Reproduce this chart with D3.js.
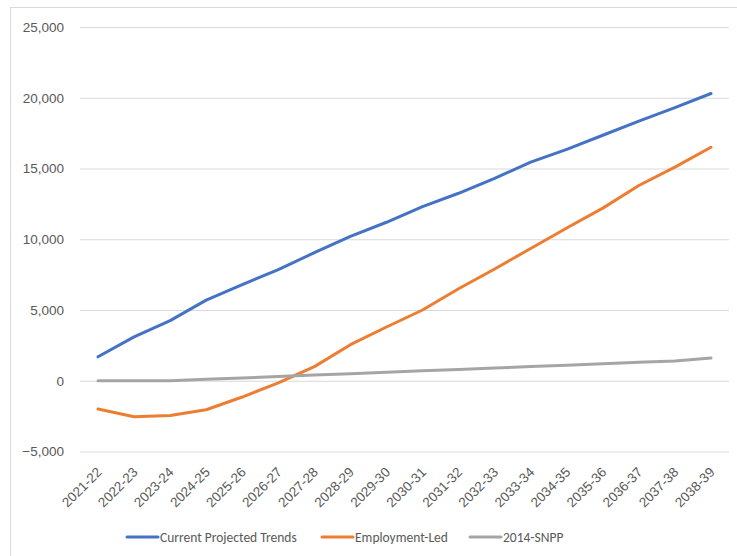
<!DOCTYPE html>
<html>
<head>
<meta charset="utf-8">
<script src="https://cdn.jsdelivr.net/npm/d3@7"></script>
<style>
  html, body { margin: 0; padding: 0; background: #fff; }
  svg { display: block; font-family: Carlito, Calibri, "Liberation Sans", "DejaVu Sans", sans-serif; }
</style>
</head>
<body>
<svg id="chart" width="737" height="556"></svg>
<script>
// Financial years on the category axis
const years = ["2021-22","2022-23","2023-24","2024-25","2025-26","2026-27","2027-28","2028-29","2029-30",
  "2030-31","2031-32","2032-33","2033-34","2034-35","2035-36","2036-37","2037-38","2038-39"];

// Cumulative change under each scenario
const currentTrends = [1700, 3100, 4250, 5700, 6800, 7850, 9050, 10200, 11200,
  12300, 13250, 14300, 15450, 16350, 17350, 18350, 19300, 20300];
const employmentLed = [-2000, -2550, -2450, -2050, -1150, -150, 1000, 2550, 3800,
  5000, 6500, 7900, 9350, 10800, 12200, 13800, 15100, 16500];
const snpp2014 = [0, 0, 0, 100, 200, 300, 400, 500, 600,
  700, 800, 900, 1000, 1100, 1200, 1300, 1400, 1600];

const yTicks = [-5000, 0, 5000, 10000, 15000, 20000, 25000];

const seriesNames = ["Current Projected Trends", "Employment-Led", "2014-SNPP"];
const seriesColors = ["#4472C4", "#ED7D31", "#A5A5A5"];
const seriesValues = [currentTrends, employmentLed, snpp2014];

const svg = d3.select("#chart");
const W = 737, H = 556;
const plot = { left: 80, right: 729, top: 27, bottom: 451.5 };
const fontSize = 13.5;

// Chart frame (runs off the right and bottom edges)
svg.append("rect")
  .attr("x", 10.5).attr("y", 7.5)
  .attr("width", W).attr("height", H)
  .attr("fill", "#fff").attr("stroke", "#D9D9D9");

const x = d3.scaleBand().domain(years).range([plot.left, plot.right]);
const y = d3.scaleLinear().domain([-5000, 25000]).range([plot.bottom, plot.top]);
const cx = d => x(d) + x.bandwidth() / 2;

// Horizontal gridlines with value labels
const yAxis = d3.axisLeft(y)
  .tickValues(yTicks)
  .tickSize(-(plot.right - plot.left))
  .tickPadding(16)
  .tickFormat(d3.format(","));
const gy = svg.append("g").attr("transform", `translate(${plot.left},0)`).call(yAxis);
gy.select(".domain").remove();
gy.selectAll(".tick line").attr("stroke", "#D9D9D9").attr("stroke-width", 1);
gy.selectAll(".tick text").attr("fill", "#595959").attr("font-size", fontSize);

// Category axis labels, rotated
const xAxis = d3.axisBottom(x).tickSize(0).tickPadding(0);
const gx = svg.append("g").attr("transform", `translate(0,${plot.bottom})`).call(xAxis);
gx.select(".domain").remove();
gx.selectAll(".tick text")
  .attr("fill", "#595959")
  .attr("font-size", fontSize)
  .attr("text-anchor", "end")
  .attr("dy", null)
  .attr("transform", "translate(2,19) rotate(-45)")
  .attr("dominant-baseline", "middle");

// Scenario lines
const line = d3.line().x((d, i) => cx(years[i])).y(d => y(d));
seriesValues.forEach((vals, k) => {
  svg.append("path")
    .datum(vals)
    .attr("fill", "none")
    .attr("stroke", seriesColors[k])
    .attr("stroke-width", 3)
    .attr("stroke-linejoin", "round")
    .attr("stroke-linecap", "round")
    .attr("d", line);
});

// Legend
const legendX = [127, 322, 470];
const lg = svg.append("g").attr("transform", "translate(0,537)");
seriesNames.forEach((name, k) => {
  const g = lg.append("g").attr("transform", `translate(${legendX[k]},0)`);
  g.append("line").attr("x1", 0).attr("x2", 31).attr("y1", 0).attr("y2", 0)
    .attr("stroke", seriesColors[k]).attr("stroke-width", 3).attr("stroke-linecap", "round");
  g.append("text").attr("x", 33).attr("y", 0).attr("dy", "0.35em")
    .attr("fill", "#595959").attr("font-size", fontSize).text(name);
});
</script>
</body>
</html>
